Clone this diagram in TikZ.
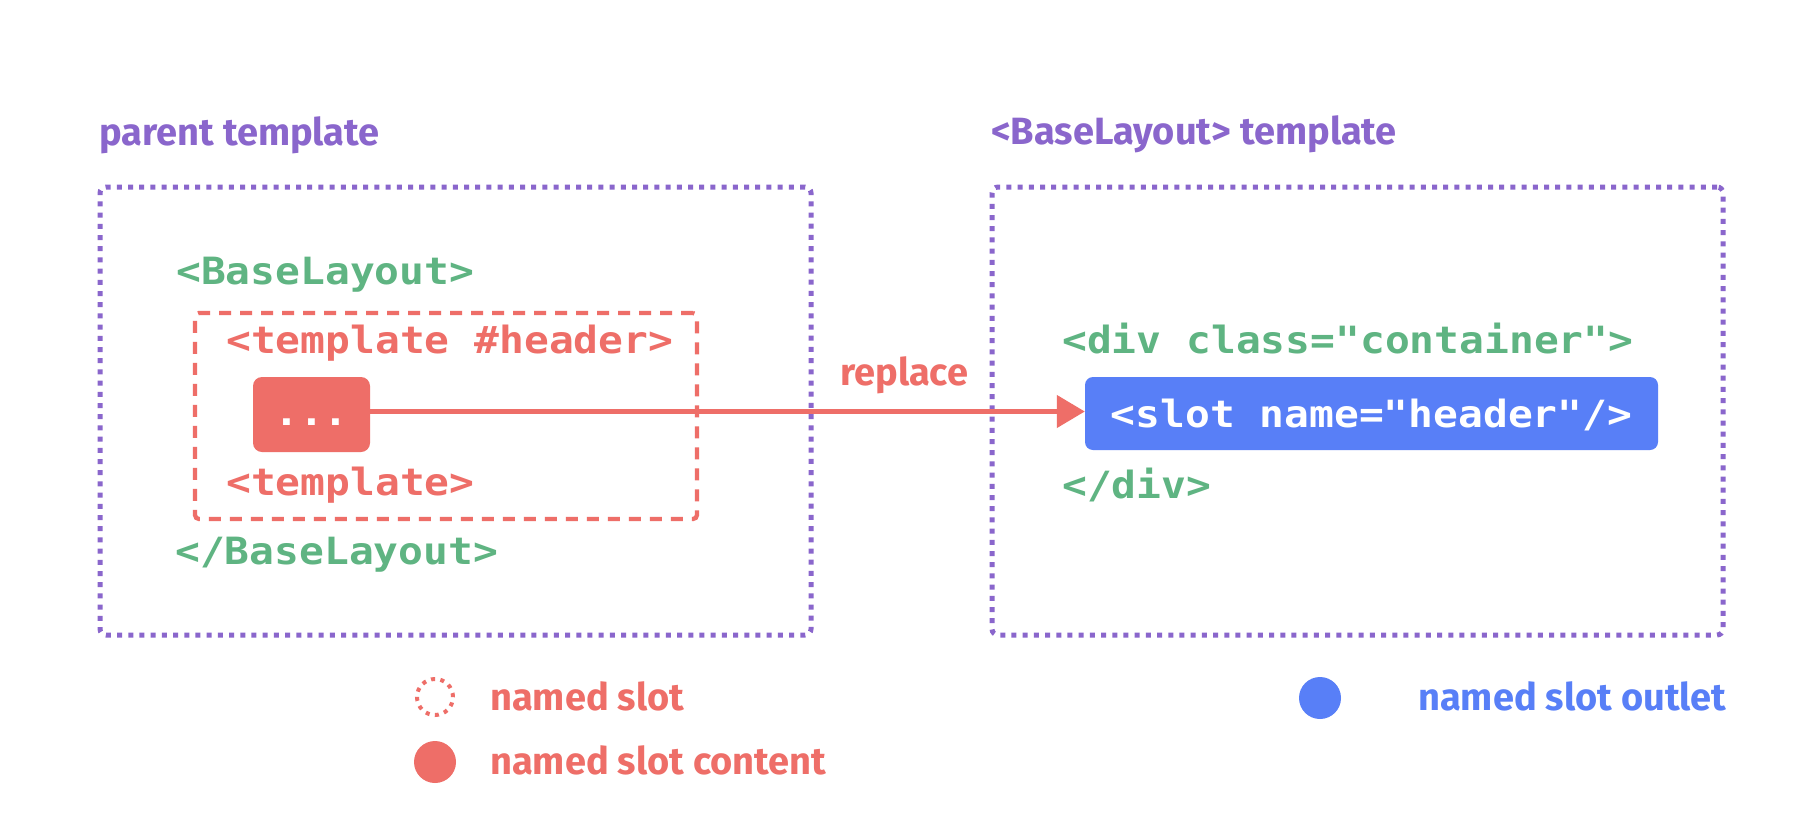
\documentclass[tikz,border=0pt]{standalone}
\usepackage{fontspec}
\usetikzlibrary{arrows.meta}
\newfontfamily\codefont[FakeStretch=1.10,Ligatures=TeXOff]{DejaVu Sans Mono}
\newfontfamily\titlefont{Fira Sans}
\definecolor{vpurple}{HTML}{8A66CC}
\definecolor{vgreen}{HTML}{5FB482}
\definecolor{vred}{HTML}{EE6E68}
\definecolor{vblue}{HTML}{587FF7}
\tikzset{
  titletxt/.style={font=\titlefont\bfseries\fontsize{38}{40}\selectfont, anchor=base west, inner sep=0pt},
  codetxt/.style={font=\codefont\bfseries\fontsize{37.5}{40}\selectfont, anchor=base west, inner sep=0pt},
  purplebox/.style={draw=vpurple, line width=5pt, dash pattern=on 5pt off 6.2pt, rounded corners=6pt, inner sep=0pt},
  reddash/.style={draw=vred, line width=4.3pt, dash pattern=on 12pt off 9pt, rounded corners=4pt, inner sep=0pt},
  contentbox/.style={fill=vred, rounded corners=9pt, inner sep=0pt, text=white,
     font=\codefont\bfseries\fontsize{37.5}{40}\selectfont, text height=22pt, text depth=0pt},
  outletbox/.style={fill=vblue, rounded corners=8pt, inner sep=0pt, text=white,
     font=\codefont\bfseries\fontsize{37.5}{40}\selectfont, text height=27pt, text depth=0pt},
}
\begin{document}
\begin{tikzpicture}[x=1pt,y=-1pt]
\path[fill=white, use as bounding box] (0,0) rectangle (1814,838);

% titles
\node[titletxt, text=vpurple] (ptitle) at (99,145) {parent template};
\node[titletxt, text=vpurple] (btitle) at (991,144) {<BaseLayout> template};

% outer boxes
\node[purplebox, minimum width=711pt, minimum height=448pt] (leftbox) at (455.5,411) {};
\node[purplebox, minimum width=731pt, minimum height=448pt] (rightbox) at (1357.5,411) {};

% left content
\node[codetxt, text=vgreen] (bl) at (176,284) {<BaseLayout>};
\node[reddash, minimum width=502pt, minimum height=206pt] (slotbox) at (446,416) {};
\node[codetxt, text=vred] (th) at (226,353) {<template \#header>};
\node[contentbox, minimum width=117pt, minimum height=75pt] (dots) at (311.5,414.5) {...};
\node[codetxt, text=vred] (te) at (226,495) {<template>};
\node[codetxt, text=vgreen] (ble) at (175,564) {</BaseLayout>};

% right content
\node[codetxt, text=vgreen] (div) at (1062,353) {<div class="container">};
\node[outletbox, minimum width=573pt, minimum height=73pt] (slot) at (1371.5,413.5) {<slot name="header"/>};
\node[codetxt, text=vgreen] (dive) at (1062,498) {</div>};

% arrow
\draw[vred, line width=4.5pt, -{Triangle[length=28pt,width=32pt]}]
  ([yshift=3pt]dots.east) -- ([yshift=2pt]slot.west);
\node[titletxt, text=vred] (rep) at (840,385) {replace};

% legend
\draw[vred, line width=4pt, dash pattern=on 4pt off 5.4pt] (435,697) circle[radius=18pt];
\node[titletxt, text=vred] (l1) at (490,710) {named slot};
\fill[vred] (435,762) circle[radius=21pt];
\node[titletxt, text=vred] (l2) at (490,774) {named slot content};
\fill[vblue] (1320,698) circle[radius=21pt];
\node[titletxt, text=vblue] (l3) at (1418,710) {named slot outlet};
\end{tikzpicture}
\end{document}
